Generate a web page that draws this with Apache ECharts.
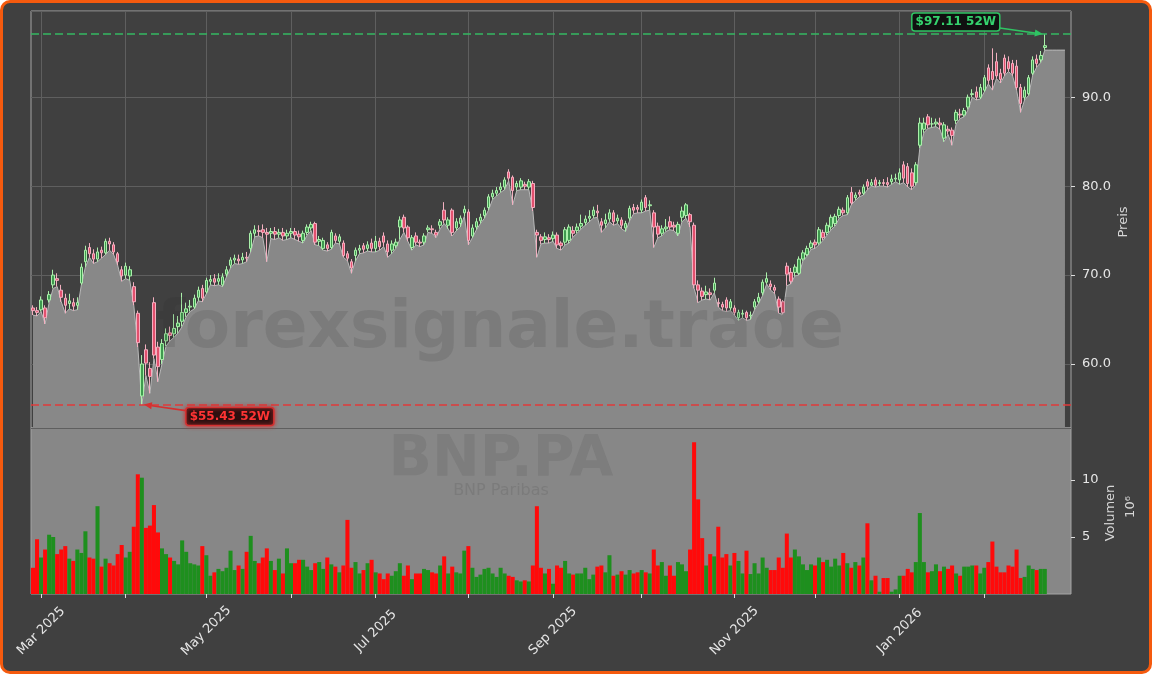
<!DOCTYPE html>
<html><head><meta charset="utf-8">
<script src="https://cdn.jsdelivr.net/npm/echarts@6/dist/echarts.min.js"></script>
<style>
html,body{margin:0;padding:0;background:#ffffff;width:1152px;height:674px;overflow:hidden;}
#frame{position:absolute;left:0;top:0;width:1152px;height:674px;box-sizing:border-box;border:3px solid #f55a0e;border-radius:10px;background:#404040;}
#chart{position:absolute;left:0;top:0;width:1152px;height:674px;}
</style></head>
<body>
<div id="frame"></div>
<div id="chart"></div>
<script>
// ---- data ----
const holidays = ['2025-04-18','2025-04-21','2025-05-01','2025-12-25','2025-12-26','2026-01-01'];
const firstDay = '2025-02-27';
const extraSlots = 6;           // empty room on the right of the last candle
const areaCarry = 5;            // area keeps last low for a few empty slots

const open = [
66.3,66.0,66.1,66.3,67.2,68.9,69.6,68.3,67.4,66.8,
66.9,66.6,69.1,71.5,73.1,72.4,71.8,72.8,72.5,73.8,
73.4,72.4,70.6,70.0,69.9,68.7,65.7,56.4,61.6,59.5,
66.9,61.9,60.5,62.6,63.5,63.4,64.2,64.8,65.8,66.4,
66.4,67.5,68.5,68.1,69.3,69.6,69.3,68.9,70.1,71.1,
71.7,71.8,71.7,72.0,73.0,74.7,75.0,75.1,74.8,74.7,
74.9,74.6,74.8,74.4,74.7,74.9,74.6,73.9,74.8,75.3,
75.8,73.8,73.0,73.4,73.1,74.4,73.8,73.6,72.4,71.5,
72.2,72.8,73.3,73.0,73.6,73.0,73.8,74.4,73.5,72.8,
73.3,75.4,76.5,75.4,73.1,74.4,73.7,73.7,75.1,75.2,
74.8,75.6,77.3,75.6,77.3,75.3,75.8,77.0,77.1,74.4,
75.4,76.1,76.7,77.6,78.8,79.2,79.6,79.9,81.6,81.0,
79.9,79.9,80.2,79.9,80.3,74.8,74.3,74.0,74.2,74.1,
74.5,73.6,73.7,73.9,75.0,75.0,75.5,75.9,76.4,76.7,
77.2,76.0,75.8,76.3,77.0,76.1,76.2,75.3,76.4,77.6,
77.6,77.3,78.7,77.8,77.0,75.5,74.7,75.2,76.0,75.6,
74.7,76.5,76.7,76.8,75.6,68.9,68.2,67.8,68.0,68.3,
66.9,66.7,67.2,66.3,66.3,65.2,65.6,65.8,65.4,66.4,
67.0,68.0,69.2,69.0,68.6,67.3,67.0,71.0,70.3,70.3,
70.2,71.8,72.3,73.1,73.7,73.6,74.8,74.8,75.4,75.8,
76.7,77.3,77.0,79.3,78.7,79.3,79.2,80.5,80.1,80.7,
80.3,80.4,80.4,80.5,80.8,80.7,82.4,82.2,81.5,80.4,
84.6,86.4,87.8,87.0,87.0,87.1,85.4,86.4,86.3,87.4,
88.1,88.0,88.9,90.3,90.6,90.0,90.8,93.3,92.9,94.0,
92.7,94.4,94.0,93.8,93.5,91.1,90.0,90.4,92.7,94.3,
94.2,95.6];

const close = [
66.0,65.8,67.2,65.2,67.8,70.0,69.4,67.5,66.6,67.1,
66.5,66.9,70.9,72.8,72.4,71.8,72.6,72.5,73.8,73.5,
72.6,71.5,69.9,71.0,70.6,67.0,62.4,60.0,60.1,58.6,
61.0,59.7,62.3,63.4,63.2,64.0,64.6,65.8,66.2,66.5,
67.4,68.3,67.4,69.4,69.5,69.2,69.6,69.8,70.6,71.7,
71.9,71.6,72.0,71.9,74.7,75.1,74.9,74.8,74.6,74.9,
74.6,74.8,74.4,74.7,74.9,74.5,74.3,74.7,75.4,75.7,
73.7,74.0,73.9,73.0,74.8,73.9,74.3,72.2,71.9,70.8,
72.8,73.0,72.9,73.4,73.0,73.8,73.2,73.7,72.6,73.5,
73.7,76.2,75.3,74.2,74.2,73.7,73.6,74.4,75.3,75.1,
74.5,76.0,76.2,76.2,74.8,76.0,76.4,77.4,73.9,75.3,
76.0,76.5,77.3,78.8,79.2,79.5,79.9,80.7,80.9,79.5,
80.3,80.6,80.0,80.5,77.6,74.5,73.9,74.3,74.0,74.5,
73.4,73.3,75.1,75.4,74.7,75.4,75.8,76.3,76.6,77.3,
77.0,75.6,76.2,77.0,76.0,76.4,75.6,75.8,77.5,77.3,
77.4,78.2,77.6,77.9,75.4,74.6,75.2,75.4,75.4,75.4,
75.7,77.2,77.9,76.0,68.9,68.3,67.6,68.1,67.8,69.1,
66.8,66.4,66.3,67.0,65.8,65.8,65.7,65.2,65.5,67.0,
67.5,69.2,69.6,68.7,68.3,66.4,65.8,70.1,69.3,70.9,
71.8,72.5,73.0,73.6,73.4,75.1,74.2,75.6,76.5,76.6,
77.4,77.0,78.7,78.1,79.0,79.1,79.9,80.0,80.4,80.1,
80.4,80.3,80.2,80.8,80.9,81.5,80.9,80.3,80.0,82.4,
87.1,87.1,86.9,87.0,87.2,86.9,86.9,86.2,85.7,88.3,
88.0,88.5,90.0,90.4,90.0,91.1,92.2,91.9,92.0,92.4,
92.0,92.7,93.2,92.7,91.1,89.3,90.8,92.2,94.2,93.8,
94.7,95.8];

const low = [
65.5,65.4,65.9,64.5,66.9,68.5,68.7,67.0,65.7,66.2,
66.0,66.1,68.9,70.9,72.0,71.3,71.5,71.9,72.3,72.8,
72.3,71.1,69.3,69.6,69.4,66.6,61.9,55.43,58.7,56.7,
60.6,58.0,60.0,62.0,62.6,63.0,63.5,64.2,65.3,65.9,
66.2,67.1,67.0,67.9,68.9,68.8,68.9,68.7,69.8,70.8,
71.3,71.2,71.3,71.5,72.6,74.3,74.4,74.2,71.5,74.1,
74.0,74.2,73.9,74.0,74.2,74.0,73.8,73.6,74.5,75.0,
73.4,73.3,72.8,72.7,72.9,73.6,73.5,72.0,71.6,70.2,
71.6,72.4,72.5,72.7,72.6,72.6,72.8,73.2,72.0,72.4,
73.0,74.0,74.8,73.8,72.8,73.4,73.2,73.4,74.8,74.7,
74.2,75.2,75.8,75.2,74.4,75.0,75.4,76.6,73.4,74.2,
75.1,75.8,76.4,77.3,78.5,78.9,79.3,79.6,80.6,77.9,
79.5,79.6,79.6,79.6,77.2,72.0,73.5,73.6,73.6,73.8,
73.0,72.8,73.4,73.6,74.3,74.7,75.2,75.6,76.0,76.4,
76.5,74.8,75.3,76.0,75.6,75.8,75.2,74.9,76.1,76.9,
77.0,77.0,77.2,77.3,73.1,74.2,74.4,74.9,75.1,75.0,
74.4,76.0,76.4,75.4,68.5,66.9,67.2,67.3,67.2,68.0,
66.4,66.0,65.9,66.0,65.5,64.9,65.2,64.9,65.0,66.1,
66.8,67.7,69.0,68.3,67.9,65.7,65.6,68.8,69.0,69.9,
70.0,71.6,72.1,72.9,73.0,73.4,73.9,74.5,75.1,75.5,
76.4,76.7,76.8,77.9,78.4,78.8,79.0,79.6,80.0,79.9,
80.0,80.0,79.9,80.2,80.5,80.2,80.4,79.9,79.6,80.1,
84.3,86.0,86.5,86.6,86.7,86.4,85.0,85.8,84.6,87.0,
87.6,87.8,88.6,90.0,89.7,89.8,90.6,91.5,90.8,92.1,
91.6,92.4,92.9,92.4,90.8,88.3,89.7,90.2,92.5,93.4,
93.9,95.3];

const high = [
66.6,66.4,67.6,66.6,68.2,70.6,70.2,68.9,67.9,67.9,
67.4,67.5,71.3,73.3,73.6,72.9,73.1,73.2,74.1,74.2,
73.7,72.6,71.0,71.4,71.0,69.2,66.0,61.0,62.2,60.2,
67.5,62.5,62.8,64.0,64.2,65.6,65.4,68.0,66.9,67.2,
67.8,68.7,68.9,69.7,70.0,70.1,70.2,70.2,71.0,72.0,
72.3,72.3,72.5,72.6,75.0,75.6,75.6,75.7,75.3,75.3,
75.4,75.2,75.3,75.1,75.3,75.3,75.0,75.0,75.7,76.0,
76.0,74.4,74.2,73.7,75.1,74.7,74.6,73.9,72.7,71.8,
73.1,73.4,73.6,73.8,74.1,74.4,74.2,74.8,73.9,73.9,
74.1,76.6,76.8,75.6,74.5,74.8,74.0,74.7,75.6,75.6,
75.1,76.3,78.2,76.5,77.5,76.4,76.7,77.8,77.4,75.7,
76.4,76.9,77.6,79.1,79.6,79.9,80.4,81.0,81.9,81.2,
80.6,80.9,80.5,80.8,80.6,75.1,74.6,74.8,74.6,74.9,
74.8,73.8,75.4,75.7,75.5,75.8,76.8,76.7,77.3,77.7,
77.9,76.4,76.9,77.4,77.3,76.8,76.5,76.1,77.8,78.0,
77.9,78.5,79.0,78.4,77.3,75.9,75.6,76.3,76.6,76.0,
76.0,77.7,78.1,77.0,75.9,69.4,68.6,68.8,68.5,69.7,
67.4,67.0,67.5,67.3,66.6,66.1,66.1,66.0,65.9,67.3,
68.0,69.5,70.3,69.4,68.9,67.6,67.2,71.4,70.8,71.2,
72.1,72.8,73.3,73.9,74.0,75.4,75.1,75.9,76.8,76.9,
77.7,77.6,79.0,79.9,79.3,79.6,80.2,80.8,80.8,81.0,
80.7,80.8,81.0,81.3,81.4,82.0,82.8,82.6,82.0,82.7,
87.7,87.7,88.1,87.7,87.6,87.7,87.2,86.8,86.6,88.6,
88.7,88.8,90.3,90.9,91.2,91.5,92.5,93.7,95.5,95.0,
93.2,94.8,94.6,94.2,94.2,91.5,91.2,92.5,94.6,94.8,
95.2,97.11];

// volume in millions of shares
const volume = [
2.3,4.8,3.2,3.9,5.2,5.0,3.5,3.9,4.2,3.1,
2.9,3.9,3.6,5.5,3.2,3.1,7.7,2.4,3.1,2.7,
2.5,3.5,4.3,3.2,3.7,5.9,10.5,10.2,5.8,6.0,
7.8,5.4,4.0,3.5,3.2,2.9,2.6,4.7,3.7,2.7,
2.6,2.5,4.2,3.4,1.6,1.9,2.2,2.0,2.3,3.8,
2.1,2.5,2.2,3.7,5.1,2.9,2.7,3.2,4.0,2.9,
2.1,3.1,1.8,4.0,2.7,2.7,3.0,
3.0,2.4,2.1,2.7,2.8,2.2,3.2,2.6,2.4,1.9,
2.5,6.5,2.3,2.8,1.8,2.1,2.7,3.0,1.9,1.8,
1.3,1.8,1.6,2.0,2.7,1.6,2.5,1.3,1.8,1.8,
2.2,2.1,1.9,1.8,2.5,3.3,1.8,2.4,1.9,1.8,
3.8,4.2,2.3,1.5,1.7,2.2,2.3,1.8,1.5,2.3,
1.8,1.6,1.5,1.2,1.1,1.2,1.1,2.5,7.7,2.3,
1.8,2.2,0.9,2.5,2.3,2.9,1.8,1.7,1.8,1.8,
2.3,1.3,1.7,2.4,2.5,1.9,3.4,1.6,1.7,2.0,
1.7,2.1,1.8,1.9,2.1,1.9,1.8,3.9,2.5,2.8,
1.6,2.5,1.6,2.8,2.6,2.0,3.9,13.3,8.3,
4.9,2.5,3.5,3.3,5.9,3.2,3.5,2.5,3.6,2.9,
1.8,3.8,1.75,2.7,1.8,3.2,2.3,2.1,2.1,3.2,
2.3,5.3,3.2,3.9,3.3,2.6,2.1,2.6,2.5,3.2,
2.8,3.0,2.4,3.1,2.5,3.6,2.7,2.3,2.8,2.5,
3.2,6.2,1.2,1.6,0.2,1.4,1.4,0.2,0.4,1.6,
1.6,2.2,1.9,2.8,7.1,2.8,1.9,2.0,2.6,2.0,
2.4,2.2,2.5,1.8,1.6,2.4,2.4,2.5,2.5,1.8,
2.3,2.8,4.6,2.4,1.9,1.9,2.5,2.4,3.9,1.4,
1.5,2.5,2.2,2.1,2.2,2.2];

const high52 = 97.11, low52 = 55.43;
const monthNames = ['Jan','Feb','Mar','Apr','May','Jun','Jul','Aug','Sep','Oct','Nov','Dec'];

// ---- categories: Euronext trading days ----
function tradingDays(start, n) {
  const out = [];
  const p = start.split('-').map(Number);
  const d = new Date(Date.UTC(p[0], p[1]-1, p[2]));
  while (out.length < n) {
    const wd = d.getUTCDay();
    const s = d.toISOString().slice(0,10);
    if (wd !== 0 && wd !== 6 && holidays.indexOf(s) < 0) out.push(s);
    d.setUTCDate(d.getUTCDate()+1);
  }
  return out;
}
const nData = close.length;
const cats = tradingDays(firstDay, nData + extraSlots);
const tickSet = new Set(), labelSet = new Set();
for (let i = 1; i < nData; i++) {
  if (cats[i].slice(5,7) !== cats[i-1].slice(5,7)) {
    tickSet.add(i);
    const m = +cats[i].slice(5,7);
    if (m % 2 === 1) labelSet.add(i);
  }
}

const candle = open.map((o,i) => [o, close[i], low[i], high[i]]);
const areaData = low.concat(Array(areaCarry).fill(low[nData-1]));
const volData = volume.map((v,i) => ({value: v, itemStyle: {color: close[i] >= open[i] ? '#1e8f1e' : '#ff0a0a'}}));

const lenOk = open.length===nData && low.length===nData && high.length===nData && volume.length===nData;

const chart = echarts.init(document.getElementById('chart'), null, {renderer: 'canvas'});
const FONT = 'DejaVu Sans';
const option = {
  backgroundColor: 'transparent',
  animation: false,
  textStyle: {fontFamily: FONT},
  grid: [
    {left: 31, right: 81, top: 11, height: 417, containLabel: false, outerBoundsMode: 'none',
      show: true, backgroundColor: '#404040', borderColor: '#a4a4a4', borderWidth: 1},
    {left: 31, right: 81, top: 428, height: 166, containLabel: false, outerBoundsMode: 'none',
      show: true, backgroundColor: '#878787', borderColor: '#a4a4a4', borderWidth: 1}
  ],
  xAxis: [
    {type: 'category', gridIndex: 0, data: cats, boundaryGap: true,
      axisLine: {show: false}, axisTick: {show: false}, axisLabel: {show: false},
      splitLine: {show: true, alignWithLabel: true, interval: (i) => tickSet.has(i), lineStyle: {color: '#5f5f5f', width: 1}}},
    {type: 'category', gridIndex: 1, data: cats, boundaryGap: true,
      axisLine: {show: false},
      axisTick: {show: true, alignWithLabel: true, interval: (i) => tickSet.has(i), length: 4, lineStyle: {color: '#dddddd', width: 1}},
      axisLabel: {show: true, interval: (i) => labelSet.has(i), rotate: 45, align: 'center', verticalAlign: 'middle',
        color: '#e6e6e6', fontSize: 13, fontFamily: FONT, margin: 37,
        formatter: (v) => monthNames[+v.slice(5,7)-1] + ' ' + v.slice(0,4)},
      splitLine: {show: false}}
  ],
  yAxis: [
    {type: 'value', gridIndex: 0, position: 'right', min: 52.8, max: 99.7, splitNumber: 5, scale: true,
      axisLine: {show: false},
      axisTick: {show: true, length: 4, lineStyle: {color: '#dddddd'}},
      axisLabel: {color: '#e6e6e6', fontSize: 13, fontFamily: FONT, margin: 11, showMinLabel: false, showMaxLabel: false,
        formatter: (v) => v.toFixed(1)},
      splitLine: {show: true, lineStyle: {color: '#5f5f5f', width: 1}}},
    {type: 'value', gridIndex: 1, position: 'right', min: 0, max: 14.56, splitNumber: 3,
      axisLine: {show: false},
      axisTick: {show: true, length: 4, lineStyle: {color: '#dddddd'}},
      axisLabel: {color: '#e6e6e6', fontSize: 13, fontFamily: FONT, margin: 11, showMinLabel: false, showMaxLabel: false},
      splitLine: {show: false}}
  ],
  series: [
    {type: 'line', name: 'area', xAxisIndex: 0, yAxisIndex: 0, data: areaData, symbol: 'none', z: 2,
      lineStyle: {color: '#b9b9b9', width: 1}, areaStyle: {color: '#888888', opacity: 1, origin: 'start'}},
    {type: 'candlestick', name: 'BNP.PA', xAxisIndex: 0, yAxisIndex: 0, data: candle, barWidth: 3, z: 3,
      itemStyle: {color: '#3f9a4f', color0: '#e2506e', borderColor: '#aaf0aa', borderColor0: '#f3b0c0', borderWidth: 1},
      markLine: {silent: true, symbol: ['none','none'], label: {show: false}, z: 5,
        data: [
          {yAxis: high52, lineStyle: {color: '#35b862', type: [8,4], width: 1.5}},
          {yAxis: low52, lineStyle: {color: '#e03a3a', type: [8,4], width: 1.5}}
        ]}},
    {type: 'bar', name: 'Volumen', xAxisIndex: 1, yAxisIndex: 1, data: volData, barWidth: '100%', z: 2}
  ],
  graphic: [
    {type: 'text', z: 50, x: 500, y: 330, style: {text: 'forexsignale.trade', fontFamily: FONT, fontWeight: 'bold', fontSize: 66, fill: 'rgba(40,40,40,0.13)', align: 'center', verticalAlign: 'middle'}},
    {type: 'text', z: 50, x: 501, y: 461, style: {text: 'BNP.PA', fontFamily: FONT, fontWeight: 'bold', fontSize: 57, fill: 'rgba(40,40,40,0.10)', align: 'center', verticalAlign: 'middle'}},
    {type: 'text', z: 50, x: 501, y: 491, style: {text: 'BNP Paribas', fontFamily: FONT, fontSize: 16, fill: 'rgba(40,40,40,0.12)', align: 'center', verticalAlign: 'middle'}},
    {type: 'text', z: 50, x: 1124, y: 222, rotation: Math.PI/2, style: {text: 'Preis', fontFamily: FONT, fontSize: 13, fill: '#d6d6d6', align: 'center', verticalAlign: 'middle'}},
    {type: 'text', z: 50, x: 1111, y: 513, rotation: Math.PI/2, style: {text: 'Volumen', fontFamily: FONT, fontSize: 13, fill: '#d6d6d6', align: 'center', verticalAlign: 'middle'}},
    {type: 'text', z: 50, x: 1131, y: 507, rotation: Math.PI/2, style: {text: '10\u2076', fontFamily: FONT, fontSize: 13, fill: '#d6d6d6', align: 'center', verticalAlign: 'middle'}}
  ]
};
if (!lenOk) option.graphic.push({type:'text', x: 400, y: 100, style:{text:'LEN MISMATCH '+[open.length,close.length,low.length,high.length,volume.length].join(','), fill:'#ff0', fontSize: 20}});
chart.setOption(option);

// ---- 52-week annotations, anchored through the axes ----
function annotation(idx, val, dx, dy, col, fillCol, textCol, glow) {
  const p = chart.convertToPixel({xAxisIndex: 0, yAxisIndex: 0}, [idx, val]);
  const cx = p[0] + dx, cy = p[1] + dy, w = 88, h = 18;
  const sx = cx + (dx < 0 ? w/2 : -w/2), sy = cy + (dy < 0 ? 6 : -6);
  const ex = p[0] + (dx < 0 ? -2 : 2), ey = p[1];
  const ang = Math.atan2(ey - sy, ex - sx), L = 8, W = 3.5;
  const bx = ex - L*Math.cos(ang), by = ey - L*Math.sin(ang);
  const px = -Math.sin(ang), py = Math.cos(ang);
  const label = '$' + val.toFixed(2) + ' 52W';
  return [
    {type: 'line', z: 60, shape: {x1: sx, y1: sy, x2: bx, y2: by}, style: {stroke: col, lineWidth: 1.6}},
    {type: 'polygon', z: 60, shape: {points: [[ex, ey], [bx + W*px, by + W*py], [bx - W*px, by - W*py]]}, style: {fill: col}},
    {type: 'rect', z: 61, shape: {x: cx - w/2, y: cy - h/2, width: w, height: h, r: 3},
      style: {fill: fillCol, stroke: col, lineWidth: 1.5, shadowBlur: glow, shadowColor: col}},
    {type: 'text', z: 62, x: cx, y: cy, style: {text: label, fontFamily: FONT, fontWeight: 'bold', fontSize: 12, fill: textCol, align: 'center', verticalAlign: 'middle'}}
  ];
}
const extra = [].concat(
  annotation(nData - 1, high52, -89, -12, '#2fc463', 'rgba(12,12,12,0.92)', '#35d26e', 0),
  annotation(low.indexOf(low52), low52, 88, 12, '#d63030', 'rgba(30,12,12,0.92)', '#ff3434', 4)
);
chart.setOption({graphic: option.graphic.concat(extra)});
</script>
</body></html>
